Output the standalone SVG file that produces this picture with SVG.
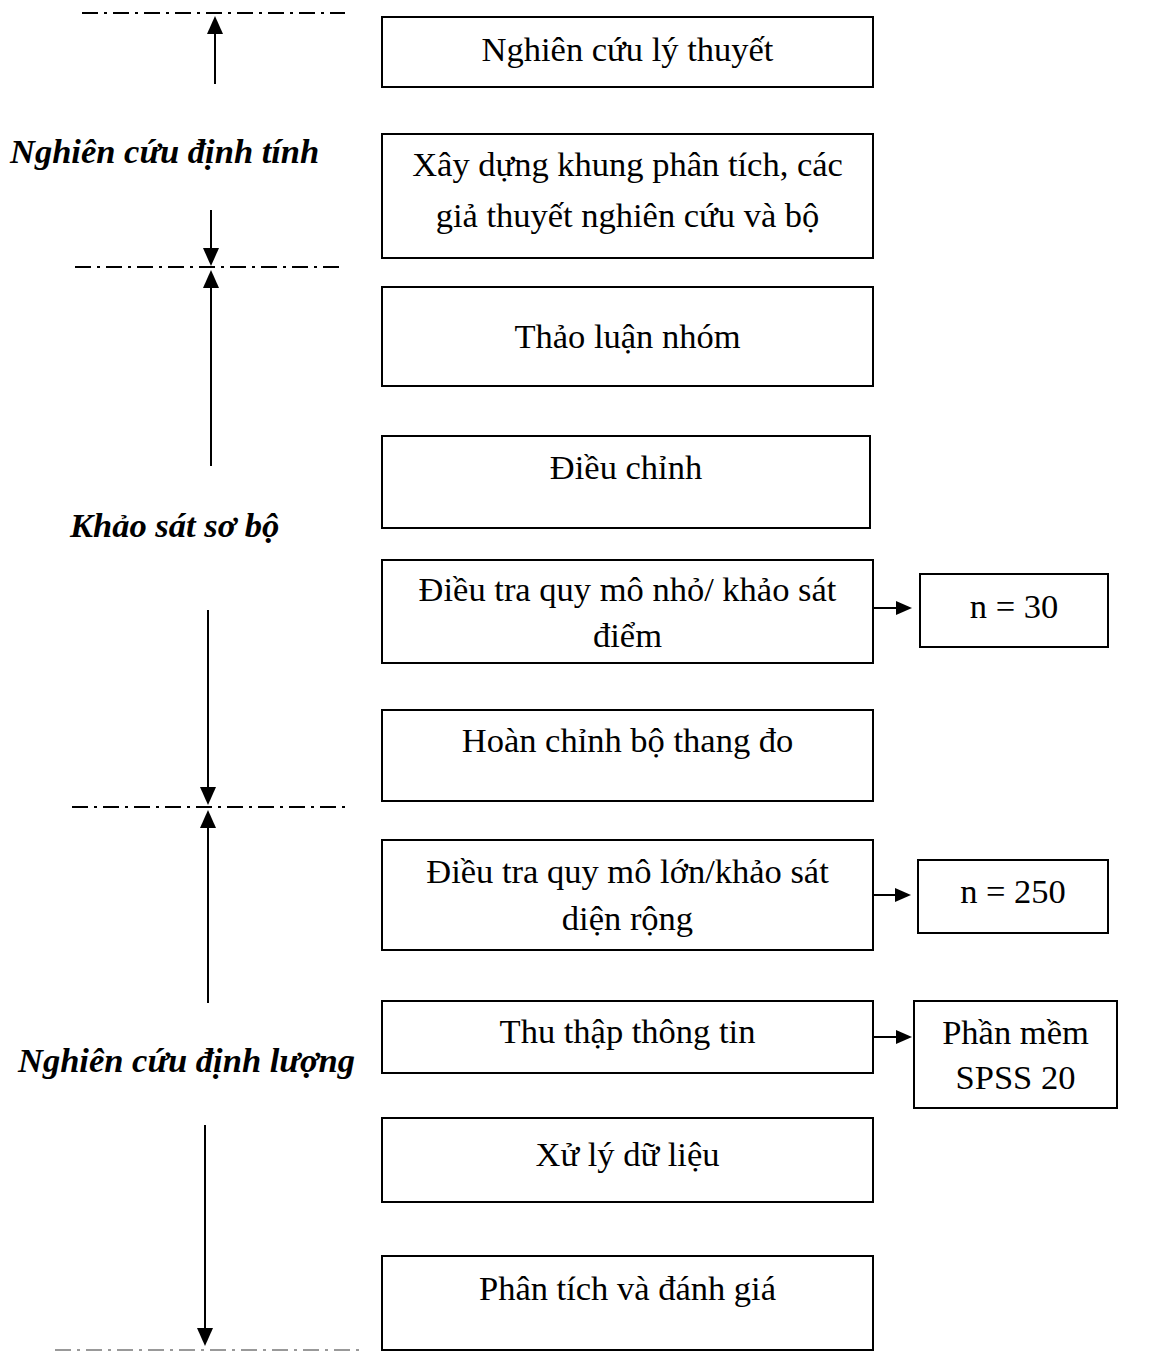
<svg xmlns="http://www.w3.org/2000/svg" width="1160" height="1351" viewBox="0 0 1160 1351">
  <style>
    .box { fill: #fff; stroke: #000; stroke-width: 2; }
    .t { font-family: "Liberation Serif", "Times New Roman", serif; font-size: 34.5px; fill: #000; text-anchor: middle; }
    .lab { font-family: "Liberation Serif", "Times New Roman", serif; font-size: 34.5px; font-weight: bold; font-style: italic; fill: #000; }
    .line { stroke: #000; stroke-width: 2; fill: none; }
    .dash { stroke: #000; stroke-width: 2; stroke-dasharray: 16 6 3 6; fill: none; }
    .ahead { fill: #000; }
  </style>

  <!-- phase separators and phase labels -->
  <g id="phases">
    <line class="dash" x1="82" y1="13" x2="345" y2="13"/>
    <line class="dash" x1="75" y1="267" x2="345" y2="267"/>
    <line class="dash" x1="72" y1="807" x2="350" y2="807"/>
    <line class="dash" x1="55" y1="1350" x2="360" y2="1350" style="stroke:#999"/>
    <text class="lab" x="10" y="163">Nghiên cứu định tính</text>
    <text class="lab" x="70" y="537">Khảo sát sơ bộ</text>
    <text class="lab" x="18" y="1072">Nghiên cứu định lượng</text>
  </g>

  <!-- connectors: shafts plus explicit triangular heads -->
  <g id="connectors">
    <line class="line" x1="215" y1="84" x2="215" y2="30"/>
    <path class="ahead" d="M215,16 L223,34 L207,34 Z"/>

    <line class="line" x1="211" y1="210" x2="211" y2="252"/>
    <path class="ahead" d="M211,266 L203,248 L219,248 Z"/>

    <line class="line" x1="211" y1="466" x2="211" y2="284"/>
    <path class="ahead" d="M211,270 L219,288 L203,288 Z"/>

    <line class="line" x1="208" y1="610" x2="208" y2="791"/>
    <path class="ahead" d="M208,805 L200,787 L216,787 Z"/>

    <line class="line" x1="208" y1="1003" x2="208" y2="824"/>
    <path class="ahead" d="M208,810 L216,828 L200,828 Z"/>

    <line class="line" x1="205" y1="1125" x2="205" y2="1332"/>
    <path class="ahead" d="M205,1346 L197,1328 L213,1328 Z"/>

    <line class="line" x1="873" y1="608" x2="898" y2="608"/>
    <path class="ahead" d="M912,608 L896,601 L896,615 Z"/>

    <line class="line" x1="873" y1="895" x2="897" y2="895"/>
    <path class="ahead" d="M911,895 L895,888 L895,902 Z"/>

    <line class="line" x1="873" y1="1037" x2="898" y2="1037"/>
    <path class="ahead" d="M912,1037 L896,1030 L896,1044 Z"/>
  </g>

  <g id="n1">
    <rect class="box" x="382" y="17" width="491" height="70"/>
    <text class="t" x="627.5" y="61">Nghiên cứu lý thuyết</text>
  </g>
  <g id="n2">
    <rect class="box" x="382" y="134" width="491" height="124"/>
    <text class="t" x="627.5" y="176">Xây dựng khung phân tích, các</text>
    <text class="t" x="627.5" y="227">giả thuyết nghiên cứu và bộ</text>
  </g>
  <g id="n3">
    <rect class="box" x="382" y="287" width="491" height="99"/>
    <text class="t" x="627.5" y="348">Thảo luận nhóm</text>
  </g>
  <g id="n4">
    <rect class="box" x="382" y="436" width="488" height="92"/>
    <text class="t" x="626" y="479">Điều chỉnh</text>
  </g>
  <g id="n5">
    <rect class="box" x="382" y="560" width="491" height="103"/>
    <text class="t" x="627.5" y="601">Điều tra quy mô nhỏ/ khảo sát</text>
    <text class="t" x="627.5" y="647">điểm</text>
  </g>
  <g id="n5b">
    <rect class="box" x="920" y="574" width="188" height="73"/>
    <text class="t" x="1014" y="618">n = 30</text>
  </g>
  <g id="n6">
    <rect class="box" x="382" y="710" width="491" height="91"/>
    <text class="t" x="627.5" y="752">Hoàn chỉnh bộ thang đo</text>
  </g>
  <g id="n7">
    <rect class="box" x="382" y="840" width="491" height="110"/>
    <text class="t" x="627.5" y="883">Điều tra quy mô lớn/khảo sát</text>
    <text class="t" x="627.5" y="930">diện rộng</text>
  </g>
  <g id="n7b">
    <rect class="box" x="918" y="860" width="190" height="73"/>
    <text class="t" x="1013" y="903">n = 250</text>
  </g>
  <g id="n8">
    <rect class="box" x="382" y="1001" width="491" height="72"/>
    <text class="t" x="627.5" y="1043">Thu thập thông tin</text>
  </g>
  <g id="n8b">
    <rect class="box" x="914" y="1001" width="203" height="107"/>
    <text class="t" x="1015.5" y="1044">Phần mềm</text>
    <text class="t" x="1015.5" y="1089">SPSS 20</text>
  </g>
  <g id="n9">
    <rect class="box" x="382" y="1118" width="491" height="84"/>
    <text class="t" x="627.5" y="1166">Xử lý dữ liệu</text>
  </g>
  <g id="n10">
    <rect class="box" x="382" y="1256" width="491" height="94"/>
    <text class="t" x="627.5" y="1300">Phân tích và đánh giá</text>
  </g>
</svg>
